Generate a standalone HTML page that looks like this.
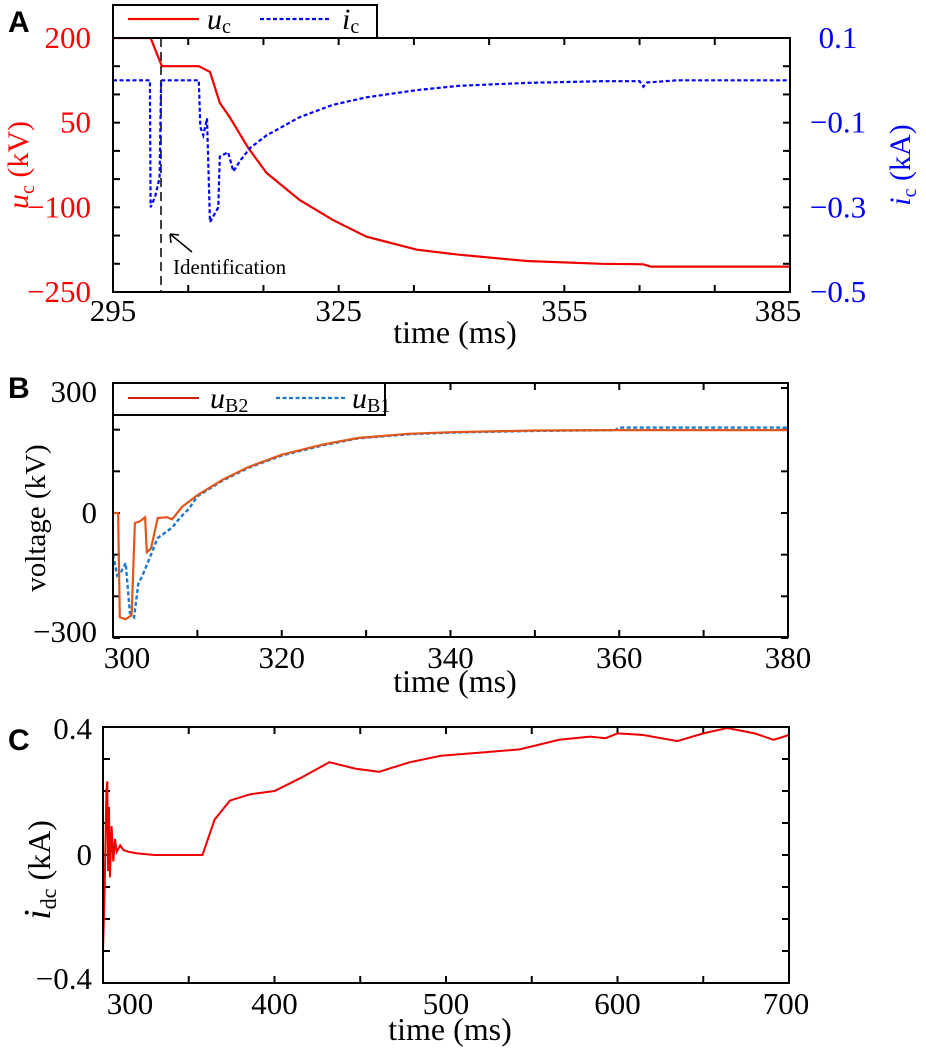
<!DOCTYPE html>
<html><head><meta charset="utf-8"><style>
html,body{margin:0;padding:0;background:#fff;}
svg{display:block;font-family:"Liberation Serif",serif;}
.pl{font-family:"Liberation Sans",sans-serif;font-weight:bold;font-size:30px;}
</style></head><body>
<svg id="chart" width="926" height="1050" viewBox="0 0 926 1050"></svg>
<script>
// ---- Panel A data ----
const aUcT=[295,300,301.5,306.4,307.9,309.2,310.5,312.9,315.4,319.8,324.2,328.7,335.4,341,350,360,365.5,366.5,385];
const aUcV=[200,200,150,150,140,85,60,7,-39,-87,-122,-152,-175,-184,-195,-200,-201,-205,-205];
const aIcT=[295,299.9,300,300.6,301.2,301.4,306.4,306.6,307,307.5,307.9,309,309.2,310.3,311,311.9,313.2,315.4,319.8,324.2,328.7,335.4,341,350,360,365,365.5,366,370,385];
const aIcV=[0,0,-0.3,-0.275,-0.23,0,0,-0.11,-0.13,-0.09,-0.335,-0.3,-0.18,-0.17,-0.215,-0.19,-0.16,-0.13,-0.087,-0.058,-0.04,-0.023,-0.013,-0.006,-0.002,-0.002,-0.015,-0.005,0,0];
const aXTicks=[295,325,355,385];
const aYLTicks=[200,50,-100,-250];
const aYRTicks=["0.1","-0.1","-0.3","-0.5"];
// ---- Panel B data ----
const bT2=[300,300.6,300.8,301.5,302.2,302.6,303.2,303.8,304,304.5,305.3,306.4,307,308.2,310,313,316,320,325,329,335,340,350,360,380];
const bV2=[0,0,-250,-255,-245,-24,-20,-10,-94,-85,-12,-10,-15,15,43,80,110,140,165,180,190,194,198,199,199];
const bT1=[300,300.5,301,301.5,302,302.5,303,303.5,304.5,305.3,306,307,308,309,310,313,316,320,325,329,335,340,350,359.5,360,380];
const bV1=[-100,-150,-140,-120,-240,-250,-170,-150,-100,-60,-50,-35,-10,10,40,78,108,138,163,179,189,193,197,199,205,205];
const bXTicks=[300,320,340,360,380];
const bYTicks=[300,0,-300];
// ---- Panel C data ----
const cT=[300,301,302,302.5,303,303.5,304,305,306,307,308,310,312,315,320,330,340,350,358,365,374,386,400,415,432,447,461,479,497,520,543,566,584,593,600,615,635,650,664,680,691,700];
const cV=[-0.3,-0.1,0.2,0.23,-0.05,0.15,-0.07,0.09,-0.02,0.05,0.01,0.03,0.015,0.01,0.005,0,0,0,0,0.11,0.17,0.19,0.2,0.24,0.29,0.27,0.26,0.29,0.31,0.32,0.33,0.36,0.37,0.365,0.38,0.375,0.356,0.38,0.397,0.38,0.36,0.375];
const cXTicks=[300,400,500,600,700];
const cYTicks=["0.4","0","−0.4"];

const svg=document.getElementById('chart');
const NS='http://www.w3.org/2000/svg';
function mk(tag,attrs,parent){const e=document.createElementNS(NS,tag);for(const k in attrs)e.setAttribute(k,attrs[k]);(parent||svg).appendChild(e);return e;}
function txt(s,x,y,size,fill,anchor,parent){const t=mk('text',{x:x,y:y,'font-size':size,fill:fill,'text-anchor':anchor||'middle'},parent);t.textContent=s;return t;}
function poly(T,V,sx,sy,attrs){return mk('polyline',Object.assign({points:T.map((t,i)=>sx(t).toFixed(1)+','+sy(V[i]).toFixed(1)).join(' '),fill:'none'},attrs));}
function box(x0,y0,x1,y1){return mk('rect',{x:x0,y:y0,width:x1-x0,height:y1-y0,fill:'none',stroke:'#000','stroke-width':2});}
const TF='31px', TT='32px';

// ===== Panel A =====
const AX0=113,AX1=790,AY0=38,AY1=292;
const axA=t=>AX0+(t-295)*(AX1-AX0)/90;
const ayL=v=>AY0+(200-v)*(AY1-AY0)/450;
const ayR=v=>AY0+(0.1-v)*(AY1-AY0)/0.6;
let e;
e=txt('A',8,32,'30px','#000','start');e.setAttribute('class','pl');

for(let i=0;i<=9;i++){const y=AY0+i*(AY1-AY0)/9;mk('line',{x1:AX0,x2:AX0+7,y1:y,y2:y,stroke:'#000','stroke-width':2});mk('line',{x1:AX1,x2:AX1-7,y1:y,y2:y,stroke:'#000','stroke-width':2});}
for(let t=295;t<=385;t+=10){const x=axA(t);mk('line',{x1:x,x2:x,y1:AY1,y2:AY1-7,stroke:'#000','stroke-width':2});mk('line',{x1:x,x2:x,y1:AY0,y2:AY0+7,stroke:'#000','stroke-width':2});}
aXTicks.forEach(t=>{e=txt(String(t),axA(t)-(t===385?12:0),AY1+29,TF,'#000');});
aYLTicks.forEach(v=>{e=txt(String(v).replace('-','−'),AX0-22,ayL(v)+10,TF,'#f00','end');});
[0.1,-0.1,-0.3,-0.5].forEach((v,i)=>{e=txt(aYRTicks[i].replace('-','−'),AX1+48,ayR(v)+10,TF,'#00f','middle');});
e=mk('text',{x:0,y:0,'font-size':'30px',fill:'#f00','text-anchor':'middle',transform:'translate(28,165) rotate(-90)'});
e.innerHTML='<tspan font-style="italic">u</tspan><tspan font-size="20px" dy="6">c</tspan><tspan dy="-6"> (kV)</tspan>';

e=mk('text',{x:0,y:0,'font-size':'30px',fill:'#00f','text-anchor':'middle',transform:'translate(910,165) rotate(-90)'});
e.innerHTML='<tspan font-style="italic">i</tspan><tspan font-size="20px" dy="6">c</tspan><tspan dy="-6"> (kA)</tspan>';

e=txt('time (ms)',455,343,TT,'#000');
e=mk('line',{x1:161,x2:161,y1:AY0,y2:AY1,stroke:'#000','stroke-width':1.5,'stroke-dasharray':'9,5'});

e=mk('path',{d:'M192,252 L170,234 M170,234 L171,243 M170,234 L179,235',stroke:'#000','stroke-width':1.5,fill:'none'});

e=txt('Identification',173,274,'21px','#000','start');
e=poly(aUcT,aUcV,axA,ayL,{stroke:'#e00','stroke-width':2.2});
e=poly(aIcT,aIcV,axA,ayR,{stroke:'#00f','stroke-width':2.2,'stroke-dasharray':'4,2.5'});
e=box(AX0,AY0,AX1,AY1);
e=mk('g',{});
mk('rect',{x:113,y:5,width:264,height:33,fill:'#fff',stroke:'#000','stroke-width':2},e);
mk('line',{x1:128,x2:199,y1:19,y2:19,stroke:'#e00','stroke-width':2.2},e);
let t2=mk('text',{x:207,y:29,'font-size':'30px',fill:'#000'},e);t2.innerHTML='<tspan font-style="italic">u</tspan><tspan font-size="20px" dy="4">c</tspan>';
mk('line',{x1:260,x2:330,y1:19,y2:19,stroke:'#00f','stroke-width':2.2,'stroke-dasharray':'4,2.5'},e);
t2=mk('text',{x:342,y:29,'font-size':'30px',fill:'#000'},e);t2.innerHTML='<tspan font-style="italic">i</tspan><tspan font-size="20px" dy="4">c</tspan>';

// ===== Panel B =====
const BX0=113,BX1=788,BY0=383,BY1=637;
const bx=t=>BX0+(t-300)*(BX1-BX0)/80;
const by=v=>513-v*125/300;
e=txt('B',8,398,'30px','#000','start');e.setAttribute('class','pl');

for(let v=-300;v<=300;v+=100){const y=by(v);mk('line',{x1:BX0,x2:BX0+7,y1:y,y2:y,stroke:'#000','stroke-width':2});mk('line',{x1:BX1,x2:BX1-7,y1:y,y2:y,stroke:'#000','stroke-width':2});}
for(let t=300;t<=380;t+=10){const x=bx(t);mk('line',{x1:x,x2:x,y1:BY1,y2:BY1-7,stroke:'#000','stroke-width':2});mk('line',{x1:x,x2:x,y1:BY0,y2:BY0+7,stroke:'#000','stroke-width':2});}
bXTicks.forEach(t=>{e=txt(String(t),bx(t)+(t===300?14:0),BY1+31,TF,'#000');});
bYTicks.forEach(v=>{e=txt(String(v).replace('-','−'),97,by(v)+(v===300?14:v===-300?4:10),TF,'#000','end');});
e=mk('text',{x:0,y:0,'font-size':'29px',fill:'#000','text-anchor':'middle',transform:'translate(45,518) rotate(-90)'});e.textContent='voltage (kV)';

e=txt('time (ms)',455,692,TT,'#000');
e=poly(bT1,bV1,bx,by,{stroke:'#1a7ad0','stroke-width':2.4,'stroke-dasharray':'4,2.5'});
e=poly(bT2,bV2,bx,by,{stroke:'#e0561a','stroke-width':2.2});
e=box(BX0,BY0,BX1,BY1);
e=mk('g',{});
mk('rect',{x:113,y:383,width:272,height:32,fill:'#fff',stroke:'#000','stroke-width':2},e);
mk('line',{x1:128,x2:199,y1:398,y2:398,stroke:'#d02010','stroke-width':2},e);
t2=mk('text',{x:210,y:408,'font-size':'30px',fill:'#000'},e);t2.innerHTML='<tspan font-style="italic">u</tspan><tspan font-size="20px" dy="4">B2</tspan>';
mk('line',{x1:276,x2:346,y1:398,y2:398,stroke:'#1a7ad0','stroke-width':2.2,'stroke-dasharray':'4,2.5'},e);
t2=mk('text',{x:352,y:408,'font-size':'30px',fill:'#000'},e);t2.innerHTML='<tspan font-style="italic">u</tspan><tspan font-size="20px" dy="4">B1</tspan>';

// ===== Panel C =====
const CX0=103,CX1=789,CY0=727,CY1=983;
const cx=t=>CX0+(t-300)*(CX1-CX0)/400;
const cy=v=>855-v*320;
e=txt('C',8,750,'30px','#000','start');e.setAttribute('class','pl');

for(let i=0;i<=8;i++){const y=CY0+i*(CY1-CY0)/8;mk('line',{x1:CX0,x2:CX0+7,y1:y,y2:y,stroke:'#000','stroke-width':2});mk('line',{x1:CX1,x2:CX1-7,y1:y,y2:y,stroke:'#000','stroke-width':2});}
for(let t=350;t<=700;t+=50){const x=cx(t);mk('line',{x1:x,x2:x,y1:CY1,y2:CY1-7,stroke:'#000','stroke-width':2});mk('line',{x1:x,x2:x,y1:CY0,y2:CY0+7,stroke:'#000','stroke-width':2});}
cXTicks.forEach(t=>{e=txt(String(t),t===300?cx(t)+27:cx(t)-(t===700?3:0),CY1+31,TF,'#000');});
[0.4,0,-0.4].forEach((v,i)=>{e=txt(cYTicks[i],92,cy(v)+(v===0.4?12:v===-0.4?6:10),TF,'#000','end');});
e=mk('text',{x:0,y:0,'font-size':TT,fill:'#000','text-anchor':'middle',transform:'translate(50,870) rotate(-90)'});
e.innerHTML='<tspan font-style="italic" font-size="38px">i</tspan><tspan font-size="22px" dy="6">dc</tspan><tspan dy="-6"> (kA)</tspan>';

e=txt('time (ms)',450,1040,TT,'#000');
e=poly(cT,cV,cx,cy,{stroke:'#e00','stroke-width':2});
e=box(CX0,CY0,CX1,CY1);
</script>
</body></html>
